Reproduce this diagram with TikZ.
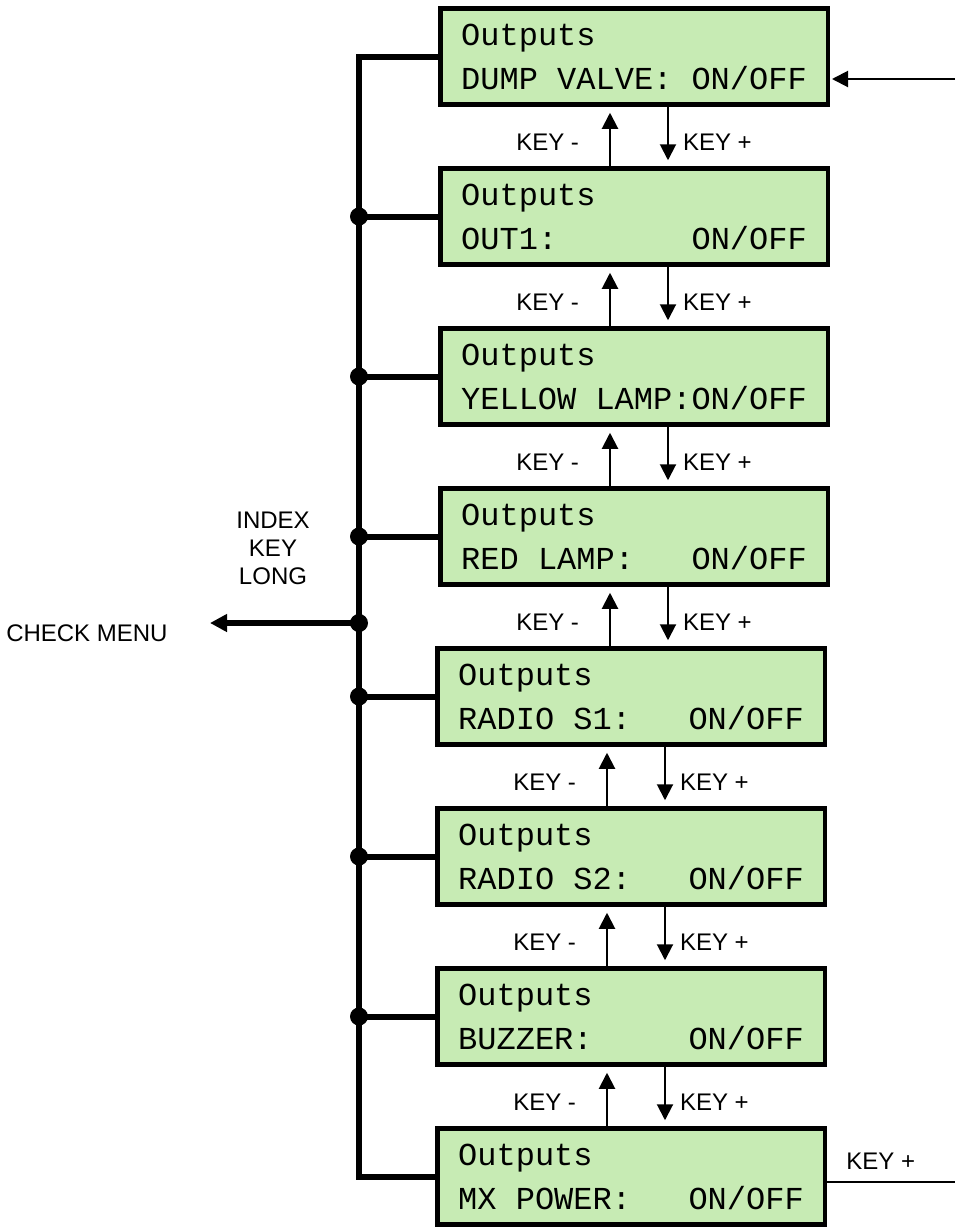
\documentclass[tikz,border=0pt]{standalone}
\usepackage{fontspec}
\setmainfont{Liberation Sans}
\newfontfamily\lcdfont{Liberation Mono}
\usetikzlibrary{arrows.meta,positioning}
\definecolor{lcdgreen}{HTML}{C7EBB4}
\newlength{\lcdw}\setlength{\lcdw}{172.8pt}
\newcommand{\lcdtext}[2]{\spaceskip=9.6pt\relax Outputs\\\makebox[\lcdw]{#1\hfill #2}}

\begin{document}
\begin{tikzpicture}[
  x=0.5pt, y=-0.5pt,
  lcd/.style={draw, line width=2.25pt, fill=lcdgreen, minimum width=193.75pt, minimum height=48pt, inner sep=0pt, text width=\lcdw, align=left, font=\lcdfont\fontsize{16}{22}\selectfont},
  lbl/.style={font=\fontsize{12}{14}\selectfont, inner sep=1pt},
  bus/.style={line width=3pt},
  key/.style={line width=1pt},
  >={Triangle[length=8pt,width=8pt]}
]
\useasboundingbox (0,0) rectangle (955,1227);

\node[lcd] (dump) at (634,56.5) {\lcdtext{DUMP VALVE:}{ON/OFF}};
\node[lcd, below=29.75pt of dump] (out1) {\lcdtext{OUT1:}{ON/OFF}};
\node[lcd, below=29.75pt of out1] (yellow) {\lcdtext{YELLOW LAMP:}{ON/OFF}};
\node[lcd, below=29.75pt of yellow] (red) {\lcdtext{RED LAMP:}{ON/OFF}};
\node[lcd, below=29.75pt of red, xshift=-1.5pt] (radio1) {\lcdtext{RADIO S1:}{ON/OFF}};
\node[lcd, below=29.75pt of radio1] (radio2) {\lcdtext{RADIO S2:}{ON/OFF}};
\node[lcd, below=29.75pt of radio2] (buzzer) {\lcdtext{BUZZER:}{ON/OFF}};
\node[lcd, below=29.75pt of buzzer] (mxpower) {\lcdtext{MX POWER:}{ON/OFF}};

% index key bus on the left
\coordinate (bx) at (359,0);
\draw[bus] (dump.west) -- (dump.west -| bx) -- (mxpower.west -| bx) -- (mxpower.west);
\draw[bus] (out1.west -| bx) -- (out1.west);
\draw[bus] (yellow.west -| bx) -- (yellow.west);
\draw[bus] (red.west -| bx) -- (red.west);
\draw[bus] (radio1.west -| bx) -- (radio1.west);
\draw[bus] (radio2.west -| bx) -- (radio2.west);
\draw[bus] (buzzer.west -| bx) -- (buzzer.west);
\fill (out1.west -| bx) circle (4.5pt);
\fill (yellow.west -| bx) circle (4.5pt);
\fill (red.west -| bx) circle (4.5pt);
\fill (radio1.west -| bx) circle (4.5pt);
\fill (radio2.west -| bx) circle (4.5pt);
\fill (buzzer.west -| bx) circle (4.5pt);

\coordinate (cj) at (359,623);
\coordinate (cm) at (210,623);
\fill (cj) circle (4.5pt);
\draw[bus, -{Triangle[length=8.5pt,width=8.5pt]}] (cj) -- (cm);
\node[lbl, left=20pt of cm, yshift=-5pt] (chk) {CHECK MENU};
\node[lbl, align=center] (idx) at (273,548) {INDEX\\KEY\\LONG};

% key - / key + between the screens
\draw[key, ->, shorten >=3pt] ([xshift=-12pt]out1.north) -- ([xshift=-12pt]dump.south) node[lbl, midway, left=14pt, yshift=-3pt] {KEY -};
\draw[key, ->, shorten >=3pt] ([xshift=17pt]dump.south) -- ([xshift=17pt]out1.north) node[lbl, midway, right=6pt, yshift=-3pt] {KEY +};
\draw[key, ->, shorten >=3pt] ([xshift=-12pt]yellow.north) -- ([xshift=-12pt]out1.south) node[lbl, midway, left=14pt, yshift=-3pt] {KEY -};
\draw[key, ->, shorten >=3pt] ([xshift=17pt]out1.south) -- ([xshift=17pt]yellow.north) node[lbl, midway, right=6pt, yshift=-3pt] {KEY +};
\draw[key, ->, shorten >=3pt] ([xshift=-12pt]red.north) -- ([xshift=-12pt]yellow.south) node[lbl, midway, left=14pt, yshift=-3pt] {KEY -};
\draw[key, ->, shorten >=3pt] ([xshift=17pt]yellow.south) -- ([xshift=17pt]red.north) node[lbl, midway, right=6pt, yshift=-3pt] {KEY +};
\draw[key, ->, shorten >=3pt] ([xshift=-10.5pt]radio1.north) -- ([xshift=-10.5pt]radio1.north |- red.south) node[lbl, midway, left=14pt, yshift=-3pt] {KEY -};
\draw[key, ->, shorten >=3pt] ([xshift=18.5pt]radio1.north |- red.south) -- ([xshift=18.5pt]radio1.north) node[lbl, midway, right=6pt, yshift=-3pt] {KEY +};
\draw[key, ->, shorten >=3pt] ([xshift=-12pt]radio2.north) -- ([xshift=-12pt]radio1.south) node[lbl, midway, left=14pt, yshift=-3pt] {KEY -};
\draw[key, ->, shorten >=3pt] ([xshift=17pt]radio1.south) -- ([xshift=17pt]radio2.north) node[lbl, midway, right=6pt, yshift=-3pt] {KEY +};
\draw[key, ->, shorten >=3pt] ([xshift=-12pt]buzzer.north) -- ([xshift=-12pt]radio2.south) node[lbl, midway, left=14pt, yshift=-3pt] {KEY -};
\draw[key, ->, shorten >=3pt] ([xshift=17pt]radio2.south) -- ([xshift=17pt]buzzer.north) node[lbl, midway, right=6pt, yshift=-3pt] {KEY +};
\draw[key, ->, shorten >=3pt] ([xshift=-12pt]mxpower.north) -- ([xshift=-12pt]buzzer.south) node[lbl, midway, left=14pt, yshift=-3pt] {KEY -};
\draw[key, ->, shorten >=3pt] ([xshift=17pt]buzzer.south) -- ([xshift=17pt]mxpower.north) node[lbl, midway, right=6pt, yshift=-3pt] {KEY +};

% entry and exit on the right
\coordinate (in) at (955,79);
\coordinate (out) at (955,1182);
\draw[key, ->, shorten >=1pt] (in) -- (in -| dump.east);
\draw[key] (out -| mxpower.east) -- (out) node[lbl, pos=0.42, above=5pt] {KEY +};
\end{tikzpicture}
\end{document}
